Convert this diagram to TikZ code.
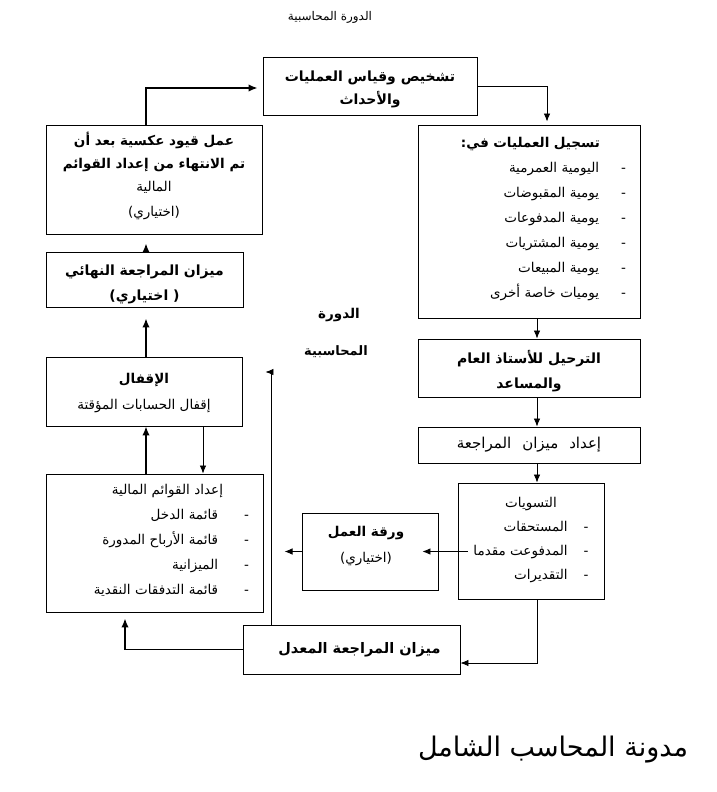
\documentclass[tikz,border=0pt]{standalone}
\usepackage{fontspec}
\usetikzlibrary{arrows.meta}
\TeXXeTstate=1
\newfontfamily\arabicfont[Script=Arabic]{DejaVu Sans}
\newcommand\ar[1]{\beginR #1\endR}
\newcommand\widesp{\spaceskip=11pt plus 2pt\relax}
\newcommand\shiftup[2]{\raisebox{#1}[\height][\depth]{#2}}
\tikzset{
  box/.style={draw, line width=0.9pt, inner sep=0pt, align=center,
    font=\arabicfont\fontsize{13.5}{23}\selectfont},
  listbox/.style={box, align=right, font=\arabicfont\fontsize{13.5}{25}\selectfont},
  arr/.style={line width=0.8pt, -{Latex[length=8pt,width=6.5pt]}},
  arrthick/.style={line width=1.6pt, -{Latex[length=9pt,width=7.5pt]}},
  lbl/.style={inner sep=0pt, align=center}
}
\begin{document}
\begin{tikzpicture}[x=1pt,y=-1pt]
\useasboundingbox (0,0) rectangle (716,792);
\fill[white] (0,0) rectangle (716,792);

% title
\node[lbl, font=\arabicfont\fontsize{12}{14}\selectfont] (title) at (330,17) {\ar{الدورة المحاسبية}};

% boxes
\node[box, minimum width=214, minimum height=58, font=\arabicfont\bfseries\fontsize{14}{23}\selectfont] (top) at (370,86)
  {\shiftup{-2pt}{\begin{tabular}{@{}c@{}}\ar{تشخيص وقياس العمليات}\\\ar{والأحداث}\end{tabular}}};

\node[box, minimum width=216, minimum height=109] (rev) at (154,179.5)
  {\shiftup{3pt}{\begin{tabular}{@{}c@{}}\bfseries\ar{عمل قيود عكسية بعد أن}\\\bfseries\ar{تم الانتهاء من إعداد القوائم}\\\ar{المالية}\\[2pt]\ar{(اختياري)}\end{tabular}}};

\node[box, minimum width=197, minimum height=55, font=\arabicfont\bfseries\fontsize{14}{25}\selectfont] (mizan) at (144.5,279.5)
  {\shiftup{-3pt}{\begin{tabular}{@{}c@{}}\ar{ميزان المراجعة النهائي}\\\ar{( اختياري)}\end{tabular}}};

\node[box, minimum width=196, minimum height=69, font=\arabicfont\fontsize{13.5}{26}\selectfont] (iqfal) at (144,391.5)
  {\begin{tabular}{@{}c@{}}\bfseries\ar{الإقفال}\\\ar{إقفال الحسابات المؤقتة}\end{tabular}};

\node[listbox, minimum width=217, minimum height=138, text width=189] (fin) at (154.5,543)
  {\shiftup{4pt}{\begin{tabular}{@{}r@{\hspace{26pt}}c@{}}
   \multicolumn{2}{@{}r@{}}{\makebox[0pt][r]{\ar{إعداد القوائم المالية}\hspace*{26pt}}} \\
   \ar{قائمة الدخل} & - \\
   \ar{قائمة الأرباح المدورة} & - \\
   \ar{الميزانية} & - \\
   \ar{قائمة التدفقات النقدية} & - \\
   \end{tabular}}\hspace*{2pt}};

\node[box, minimum width=217, minimum height=49, font=\arabicfont\bfseries\fontsize{14.5}{20}\selectfont] (adj) at (351.5,649.5)
  {\hspace*{16pt}\ar{ميزان المراجعة المعدل}};

\node[box, minimum width=136, minimum height=77, font=\arabicfont\fontsize{13.5}{26}\selectfont] (work) at (370,551.5)
  {\shiftup{7pt}{\begin{tabular}{@{}c@{}}\bfseries\ar{ورقة العمل}\\\ar{(اختياري)}\end{tabular}}\hspace*{8pt}};

\node[box, minimum width=146, minimum height=116, font=\arabicfont\fontsize{13.5}{24}\selectfont] (tasw) at (531,541)
  {\shiftup{2pt}{\begin{tabular}{@{}r@{\hspace{16pt}}c@{}}
   \multicolumn{2}{@{}c@{}}{\ar{التسويات}}\\
   \ar{المستحقات} & - \\
   \ar{المدفوعت مقدما} & - \\
   \ar{التقديرات} & - \\
   \end{tabular}}};

\node[listbox, minimum width=222, minimum height=193, text width=194] (reg) at (529,221.5)
  {\shiftup{4pt}{\begin{tabular}{@{}r@{\hspace{22pt}}c@{}}
   \multicolumn{2}{@{}r@{}}{\makebox[0pt][r]{\bfseries\ar{تسجيل العمليات في:}\hspace*{26pt}}} \\
   \ar{اليومية العمرمية} & - \\
   \ar{يومية المقبوضات} & - \\
   \ar{يومية المدفوعات} & - \\
   \ar{يومية المشتريات} & - \\
   \ar{يومية المبيعات} & - \\
   \ar{يوميات خاصة أخرى} & - \\
   \end{tabular}}\hspace*{11pt}};

\node[box, minimum width=222, minimum height=58, font=\arabicfont\bfseries\fontsize{14}{25}\selectfont] (tarhil) at (529,368)
  {\shiftup{-3pt}{\begin{tabular}{@{}c@{}}\ar{الترحيل للأستاذ العام}\\\ar{والمساعد}\end{tabular}}};

\node[box, minimum width=222, minimum height=36, font=\arabicfont\fontsize{15}{20}\selectfont] (idad) at (529,445)
  {\widesp\ar{إعداد ميزان المراجعة}};

% centre label
\node[lbl, font=\arabicfont\bfseries\fontsize{13.5}{15}\selectfont] (cyc1) at (339,315) {\ar{الدورة}};
\node[lbl, font=\arabicfont\bfseries\fontsize{13}{15}\selectfont] (cyc2) at (336,352) {\ar{المحاسبية}};

% footer
\node[lbl, font=\arabicfont\fontsize{27}{30}\selectfont] (blog) at (553,750) {\ar{مدونة المحاسب الشامل}};

% connectors
\draw[arr, shorten >=3pt] (top.east) -| ([xshift=18pt]reg.north);
\draw[arr] ([xshift=8pt]reg.south) -- ([xshift=8pt]tarhil.north);
\draw[arr] ([xshift=8pt]tarhil.south) -- ([xshift=8pt]idad.north);
\draw[arr] ([xshift=8pt]idad.south) -- ([xshift=8pt]idad.south |- tasw.north);
\draw[arr] ([xshift=10pt]work.east -| tasw.west) -- ([xshift=-16pt]work.east);
\draw[arr] (work.west) -- ([xshift=-17pt]work.west);
\draw[arr] ([xshift=6pt]tasw.south) |- ([yshift=-13.5pt]adj.east);
\draw[arrthick, shorten >=6pt] (adj.west) -| ([xshift=-29.5pt]fin.south);
\draw[arr] ([xshift=29pt]adj.north west) |- ([xshift=23pt,yshift=19.5pt]iqfal.east);
\draw[arr] ([xshift=59pt]iqfal.south) -- ([xshift=59pt]iqfal.south |- fin.north);
\draw[arrthick] ([xshift=-8.5pt]fin.north) -- ([xshift=-8.5pt]fin.north |- iqfal.south);
\draw[arrthick, shorten >=11pt] ([xshift=2pt]iqfal.north) -- ([xshift=2pt]iqfal.north |- mizan.south);
\draw[arrthick, shorten >=9pt] ([xshift=1.5pt]mizan.north) -- ([xshift=1.5pt]mizan.north |- rev.south);
\draw[arrthick, shorten >=5pt] ([xshift=-8pt]rev.north) |- ([yshift=-2pt]top.west);
\end{tikzpicture}
\end{document}
